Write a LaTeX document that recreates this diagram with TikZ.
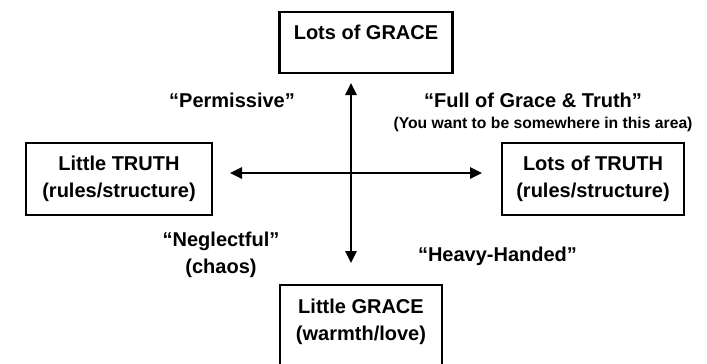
\documentclass[tikz,border=0pt]{standalone}
\usepackage{fontspec}
\setmainfont{Liberation Sans}
\usetikzlibrary{arrows.meta}

\begin{document}
\begin{tikzpicture}[x=0.5pt,y=-0.5pt,<->,>={Triangle[length=6pt,width=5.5pt]},
                    line width=1.3pt,
                    box/.style={draw,line width=1.4pt,inner sep=0pt,align=center,
                                font=\fontsize{10}{13.5}\selectfont\bfseries},
                    tag/.style={align=center,font=\fontsize{10}{13.5}\selectfont\bfseries}]

        \useasboundingbox (0,0) rectangle (707,364);

        % Define boxes
        \node[box,minimum width=86.5pt,minimum height=30.5pt] (grace) at (366,42.5) {\strut Lots of GRACE\\[-5pt]\strut};
        \node[box,minimum width=93pt,minimum height=36pt] (lowtruth) at (119,179) {\strut Little TRUTH\\\strut(rules/structure)};
        \node[box,minimum width=91pt,minimum height=36pt] (truth) at (593,179) {\strut Lots of TRUTH\\\strut(rules/structure)};
        \node[box,minimum width=81pt,minimum height=50pt] (lowgrace) at (361,335) {\strut Little GRACE\\\strut(warmth/love)\\\strut};

        % Define quadrant labels
        \node[tag] (permissive) at (232,100) {“Permissive”};
        \node[tag] (full) at (533,100) {“Full of Grace \& Truth”};
        \node[font=\fontsize{7.85}{9}\selectfont\bfseries] (area) at (543,124) {(You want to be somewhere in this area)};
        \node[tag] (neglect) at (221,255) {\strut“Neglectful”\\\strut(chaos)};
        \node[tag] (heavy) at (497.5,256) {“Heavy-Handed”};

        % Draw axes
        \coordinate (up) at (351,83);
        \coordinate (down) at (351,263);
        \coordinate (left) at (230,173);
        \coordinate (right) at (482,173);
        \path
            (up) edge (down)
            (left) edge (right);

\end{tikzpicture}
\end{document}
